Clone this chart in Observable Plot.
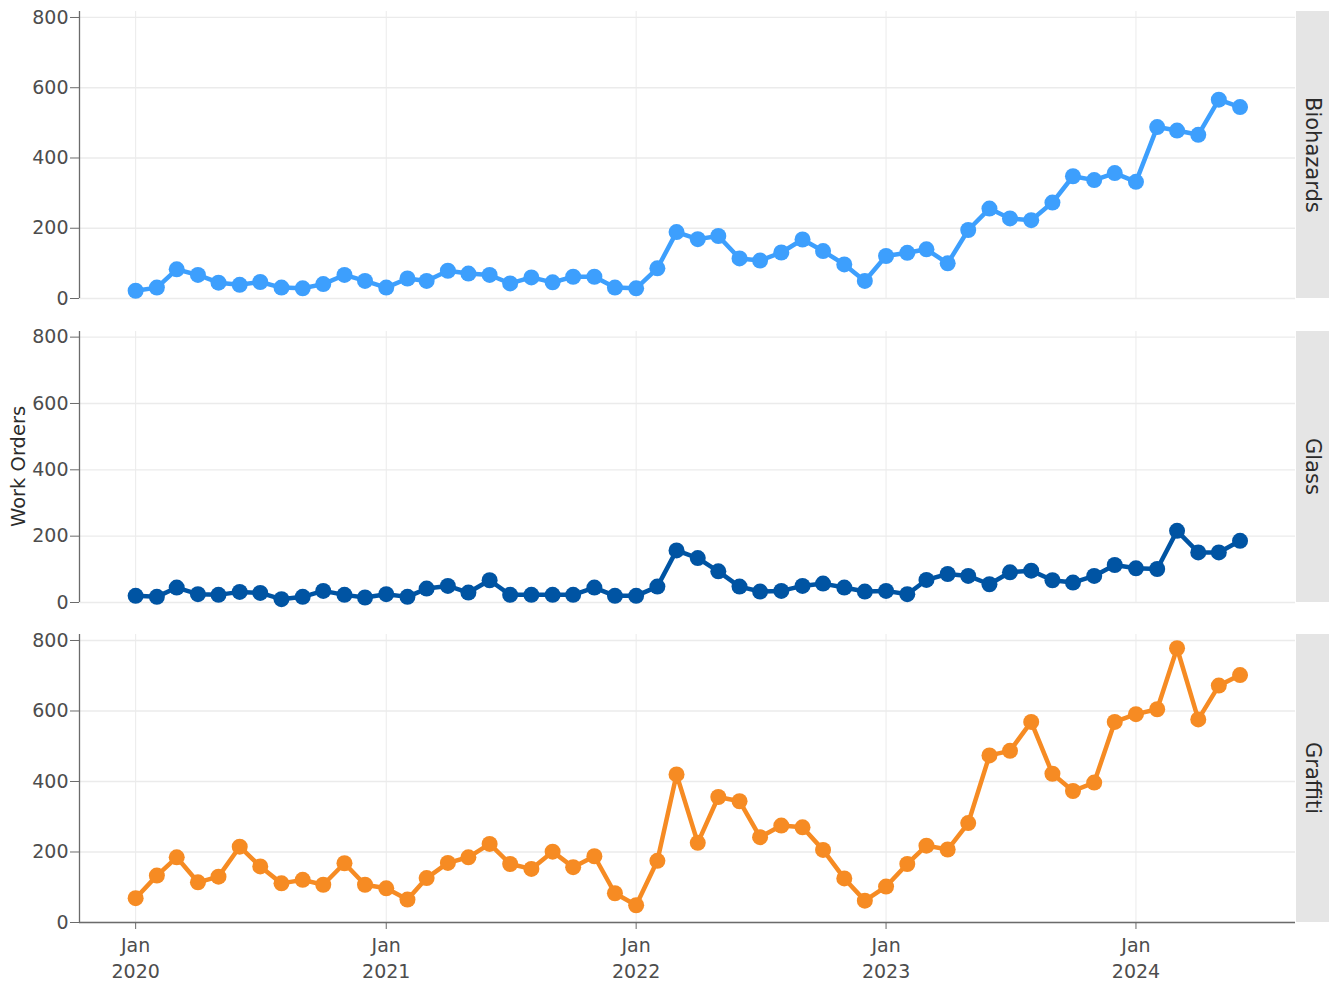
<!DOCTYPE html>
<html>
<head>
<meta charset="utf-8">
<script src="https://cdn.jsdelivr.net/npm/d3@7"></script>
<script src="https://cdn.jsdelivr.net/npm/@observablehq/plot@0.6"></script>
<style>
  body { margin: 0; background: #fff; font-family: "DejaVu Sans", Verdana, sans-serif; }
  #wrap { position: relative; width: 1334px; height: 986px; overflow: hidden; background: #fff; }
  .panel { position: absolute; left: 0; }
  .strip { position: absolute; left: 1296px; width: 33px; background: #e5e5e5; color: #2b2b2b;
           font-size: 21px; writing-mode: vertical-rl; text-align: center; line-height: 33px; white-space: nowrap; }
  .ylab { position: absolute; left: 0; width: 38px; color: #2b2b2b; font-size: 19.5px;
          writing-mode: vertical-rl; transform: rotate(180deg); text-align: center; line-height: 38px; white-space: nowrap; }
</style>
</head>
<body>
<div id="wrap"></div>
<script>
// ---- data ----
const startMonth = "2020-01-01";
const endMonth = "2024-07-01"; // exclusive
const seriesNames = ["Biohazards", "Glass", "Graffiti"];
const seriesColors = ["#3d9ffd", "#0054a3", "#f68b23"];
const yTicks = [0, 200, 400, 600, 800];
const yearTicks = ["2020-01-01", "2021-01-01", "2022-01-01", "2023-01-01", "2024-01-01"];

const biohazards = [22, 31, 83, 67, 45, 39, 47, 31, 29, 41, 67, 50,
                    31, 57, 50, 79, 71, 67, 43, 60, 46, 62, 62, 31,
                    29, 86, 189, 169, 178, 114, 108, 131, 168, 135, 97, 50,
                    121, 130, 140, 100, 195, 256, 228, 223, 273, 348, 337, 357,
                    332, 488, 478, 466, 566, 545];
const glass = [20, 17, 45, 25, 23, 32, 29, 10, 17, 35, 23, 15,
               25, 17, 42, 50, 30, 67, 23, 23, 23, 23, 45, 20,
               20, 48, 157, 134, 94, 48, 33, 35, 50, 57, 45, 33,
               35, 25, 68, 86, 80, 55, 91, 96, 67, 60, 80, 113,
               103, 101, 216, 151, 151, 186];
const graffiti = [69, 133, 185, 114, 130, 215, 159, 111, 121, 107, 168, 107,
                  97, 65, 126, 169, 185, 223, 166, 152, 201, 157, 188, 83,
                  49, 175, 420, 226, 356, 344, 242, 275, 270, 206, 125, 62,
                  102, 166, 218, 207, 282, 474, 487, 569, 422, 373, 397, 569,
                  591, 605, 778, 576, 672, 702];

// ---- layout ----
const months = d3.utcMonth.range(new Date(startMonth), new Date(endMonth));
const xDomain = [new Date("2019-10-11"), new Date("2024-08-21")];
const years = yearTicks.map(d => new Date(d));
const yDomain = [0, 817];
const wrap = document.getElementById("wrap");

const panels = [
  {values: biohazards, top: 0, height: 298, mb: 0, axis: false},
  {values: glass, top: 320, height: 282, mb: 0, axis: false},
  {values: graffiti, top: 623, height: 363, mb: 64, axis: true}
];

panels.forEach((p, k) => {
  const data = months.map((d, i) => ({date: d, value: p.values[i]}));
  const color = seriesColors[k];
  const marks = [
    Plot.ruleX(years, {stroke: "#ebebeb", strokeWidth: 1}),
    Plot.ruleY(yTicks, {stroke: "#ebebeb", strokeWidth: 1.3}),
    Plot.ruleX([xDomain[0]], {stroke: "#6b6b6b", strokeWidth: 1.3}),
    Plot.axisY(yTicks, {tickSize: 9, tickPadding: 2, fontSize: 19, stroke: "#6b6b6b", fill: "#4d4d4d", label: null}),
    Plot.line(data, {x: "date", y: "value", stroke: color, strokeWidth: 4.5}),
    Plot.dot(data, {x: "date", y: "value", r: 8, fill: color, stroke: "none"})
  ];
  if (p.axis) {
    marks.push(Plot.ruleY([0], {stroke: "#6b6b6b", strokeWidth: 1.3}));
    marks.push(Plot.axisX(years, {tickSize: 7, tickPadding: 5, fontSize: 19, lineHeight: 1.33,
      stroke: "#6b6b6b", fill: "#4d4d4d", label: null,
      tickFormat: d => "Jan\n" + d.getUTCFullYear()}));
  }
  const svg = Plot.plot({
    width: 1334, height: p.height,
    marginLeft: 79, marginRight: 39, marginTop: 11, marginBottom: p.mb,
    style: {background: "transparent", overflow: "visible", fontFamily: "DejaVu Sans, Verdana, sans-serif", fontSize: "19px", color: "#4d4d4d"},
    x: {type: "utc", domain: xDomain, axis: null},
    y: {domain: yDomain, axis: null},
    marks
  });
  svg.classList.add("panel");
  svg.style.top = p.top + "px";
  svg.style.position = "absolute";
  svg.style.overflow = "visible";
  wrap.appendChild(svg);

  const strip = document.createElement("div");
  strip.className = "strip";
  const stripTop = p.top + 11;
  const stripH = p.height - p.mb - 11;
  strip.style.top = stripTop + "px";
  strip.style.height = stripH + "px";
  strip.textContent = seriesNames[k];
  wrap.appendChild(strip);
});

const ylab = document.createElement("div");
ylab.className = "ylab";
ylab.style.top = "331px";
ylab.style.height = "271px";
ylab.textContent = "Work Orders";
wrap.appendChild(ylab);
</script>
</body>
</html>
